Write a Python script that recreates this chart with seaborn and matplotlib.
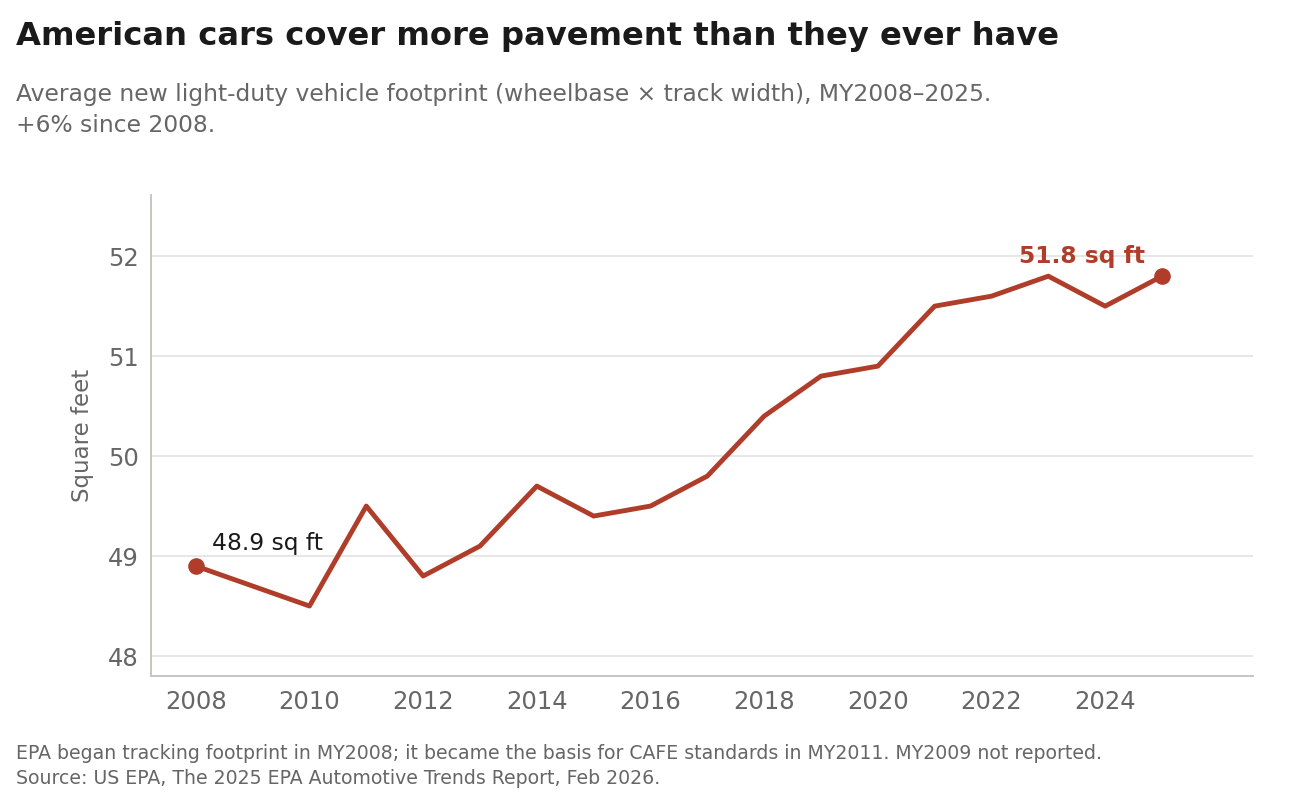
import matplotlib
matplotlib.use("Agg")
import matplotlib.pyplot as plt
import seaborn as sns
import pandas as pd

# Datos: huella media (pies cuadrados) por año de modelo; MY2009 no reportado
years = [2008, 2010, 2011, 2012, 2013, 2014, 2015, 2016, 2017,
         2018, 2019, 2020, 2021, 2022, 2023, 2024, 2025]
footprint = [48.9, 48.5, 49.5, 48.8, 49.1, 49.7, 49.4, 49.5, 49.8,
             50.4, 50.8, 50.9, 51.5, 51.6, 51.8, 51.5, 51.8]
x_ticks = [2008, 2010, 2012, 2014, 2016, 2018, 2020, 2022, 2024]
y_ticks = [48, 49, 50, 51, 52]

df = pd.DataFrame({"year": years, "footprint": footprint})

RED = "#b03d2a"
GRAY = "#666666"
DARK = "#1a1a1a"

sns.set_theme(style="white")
plt.rcParams["font.family"] = ["DejaVu Sans"]

fig = plt.figure(figsize=(13.12, 8.0), dpi=100)
ax = fig.add_axes([0.115, 0.155, 0.840, 0.601])

for y in y_ticks:
    ax.axhline(y, color="#e3e3e0", linewidth=1.2, zorder=0)

sns.lineplot(data=df, x="year", y="footprint", color=RED, linewidth=3.5, ax=ax)

first, last = df.iloc[0], df.iloc[-1]
ax.scatter([first["year"], last["year"]], [first["footprint"], last["footprint"]],
           s=120, color=RED, zorder=5)
ax.annotate(f"{first['footprint']:.1f} sq ft", (first["year"], first["footprint"]),
            xytext=(11.5, 16), textcoords="offset points", ha="left", va="center",
            fontsize=16.8, color=DARK)
ax.annotate(f"{last['footprint']:.1f} sq ft", (last["year"], last["footprint"]),
            xytext=(-12.5, 14.5), textcoords="offset points", ha="right", va="center",
            fontsize=16.8, color=RED, fontweight="bold")

ax.set_xlim(2007.21, 2026.6)
ax.set_ylim(47.8, 52.61)
ax.set_xticks(x_ticks)
ax.set_yticks(y_ticks)
ax.tick_params(axis="both", labelsize=17.5, colors=GRAY, length=5, width=1,
               direction="out")
ax.tick_params(axis="x", pad=5)
ax.set_xlabel("")
ax.set_ylabel("Square feet", fontsize=16.5, color=GRAY, labelpad=10)

for side in ["top", "right"]:
    ax.spines[side].set_visible(False)
for side in ["left", "bottom"]:
    ax.spines[side].set_color("#c4c2bc")
    ax.spines[side].set_linewidth(1.3)

fig.text(0.012, 0.955, "American cars cover more pavement than they ever have",
         fontsize=23.2, fontweight="bold", color=DARK, va="center")
fig.text(0.012, 0.882, "Average new light-duty vehicle footprint (wheelbase \u00d7 track width), MY2008\u20132025.",
         fontsize=16.8, color=GRAY, va="center")
fig.text(0.012, 0.843, "+6% since 2008.", fontsize=16.8, color=GRAY, va="center")
fig.text(0.012, 0.058, "EPA began tracking footprint in MY2008; it became the basis for CAFE standards in MY2011. MY2009 not reported.",
         fontsize=13.6, color=GRAY, va="center")
fig.text(0.012, 0.027, "Source: US EPA, The 2025 EPA Automotive Trends Report, Feb 2026.",
         fontsize=13.6, color=GRAY, va="center")

fig.savefig("out.png", dpi=100)
plt.close(fig)
